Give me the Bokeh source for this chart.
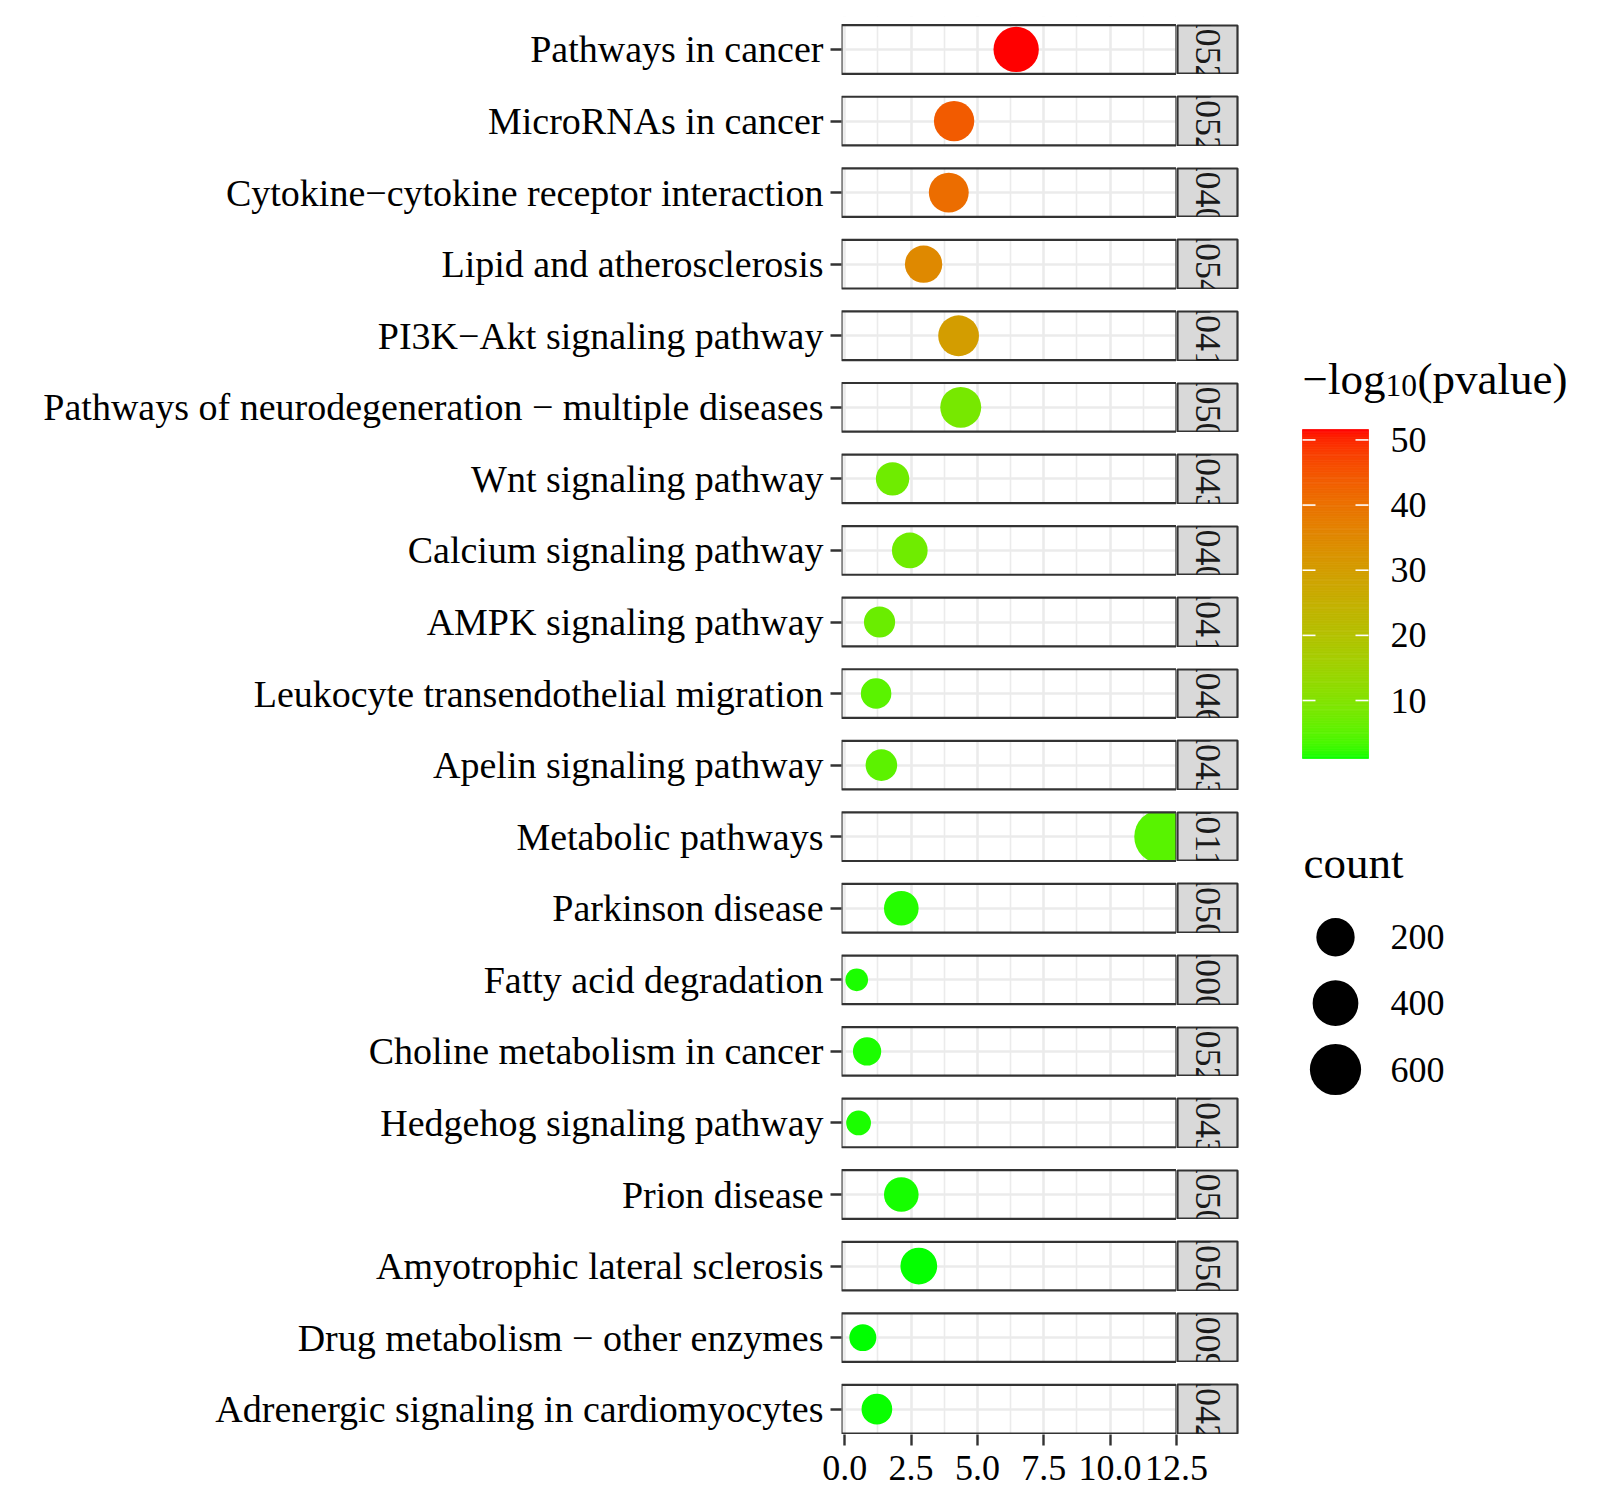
import math
import numpy as np
from bokeh.plotting import figure
from bokeh.layouts import row, column
from bokeh.models import Range1d, FixedTicker, PrintfTickFormatter, AllLabels, ColumnDataSource
from bokeh.core.properties import value
from bokeh.embed import file_html
from bokeh.resources import INLINE

# ---------------- data ----------------
PATHWAYS = [
    "Pathways in cancer",
    "MicroRNAs in cancer",
    "Cytokine\u2212cytokine receptor interaction",
    "Lipid and atherosclerosis",
    "PI3K\u2212Akt signaling pathway",
    "Pathways of neurodegeneration \u2212 multiple diseases",
    "Wnt signaling pathway",
    "Calcium signaling pathway",
    "AMPK signaling pathway",
    "Leukocyte transendothelial migration",
    "Apelin signaling pathway",
    "Metabolic pathways",
    "Parkinson disease",
    "Fatty acid degradation",
    "Choline metabolism in cancer",
    "Hedgehog signaling pathway",
    "Prion disease",
    "Amyotrophic lateral sclerosis",
    "Drug metabolism \u2212 other enzymes",
    "Adrenergic signaling in cardiomyocytes",
]
KEGG_IDS = [
    "hsa05200", "hsa05206", "hsa04060", "hsa05417", "hsa04151",
    "hsa05022", "hsa04310", "hsa04020", "hsa04152", "hsa04670",
    "hsa04371", "hsa01100", "hsa05012", "hsa00071", "hsa05231",
    "hsa04340", "hsa05020", "hsa05014", "hsa00983", "hsa04261",
]
GENE_RATIO = [6.46, 4.12, 3.92, 2.97, 4.29, 4.37, 1.80, 2.45, 1.31, 1.18,
              1.38, 11.93, 2.13, 0.45, 0.84, 0.52, 2.13, 2.79, 0.68, 1.21]
COUNTS = [388, 247, 235, 178, 257, 262, 108, 147, 79, 71,
          83, 716, 128, 28, 50, 31, 128, 167, 41, 73]
NEG_LOG10_P = [51.6, 44.0, 40.8, 35.0, 30.0, 8.3, 7.3, 7.3, 6.7, 5.0,
               5.2, 4.8, 1.8, 1.5, 1.5, 1.5, 1.4, 1.15, 1.1, 1.2]
X_TICKS = [0.0, 2.5, 5.0, 7.5, 10.0, 12.5]
X_MINOR = [1.25, 3.75, 6.25, 8.75, 11.25]
CB_TICKS = [10, 20, 30, 40, 50]
SIZE_BREAKS = [200, 400, 600]

FONT = "Liberation Serif"
N = len(PATHWAYS)

# ---------------- colour scale (CIELAB interpolation green -> red) ----------------
def _lin(c):
    c = c / 255.0
    return c / 12.92 if c <= 0.04045 else ((c + 0.055) / 1.055) ** 2.4

def hex_to_lab(h):
    r, g, b = (int(h[i:i + 2], 16) for i in (1, 3, 5))
    R, G, B = _lin(r), _lin(g), _lin(b)
    X = 0.4124564 * R + 0.3575761 * G + 0.1804375 * B
    Y = 0.2126729 * R + 0.7151522 * G + 0.0721750 * B
    Z = 0.0193339 * R + 0.1191920 * G + 0.9503041 * B
    def f(t):
        return t ** (1 / 3) if t > (6 / 29) ** 3 else t / (3 * (6 / 29) ** 2) + 4 / 29
    fx, fy, fz = f(X / 0.95047), f(Y / 1.0), f(Z / 1.08883)
    return (116 * fy - 16, 500 * (fx - fy), 200 * (fy - fz))

def lab_to_hex(L, a, b):
    fy = (L + 16) / 116
    fx = fy + a / 500
    fz = fy - b / 200
    def finv(t):
        return t ** 3 if t > 6 / 29 else 3 * (6 / 29) ** 2 * (t - 4 / 29)
    X, Y, Z = 0.95047 * finv(fx), finv(fy), 1.08883 * finv(fz)
    R = 3.2404542 * X - 1.5371385 * Y - 0.4985314 * Z
    G = -0.9692660 * X + 1.8760108 * Y + 0.0415560 * Z
    B = 0.0556434 * X - 0.2040259 * Y + 1.0572252 * Z
    out = []
    for c in (R, G, B):
        c = 12.92 * c if c <= 0.0031308 else 1.055 * (max(c, 0) ** (1 / 2.4)) - 0.055
        out.append(int(round(min(max(c, 0.0), 1.0) * 255)))
    return "#%02x%02x%02x" % tuple(out)

LAB_LO = hex_to_lab("#00FF00")
LAB_HI = hex_to_lab("#FF0000")
VMIN, VMAX = min(NEG_LOG10_P), max(NEG_LOG10_P)

def value_color(v):
    t = (v - VMIN) / (VMAX - VMIN)
    return lab_to_hex(*[lo + t * (hi - lo) for lo, hi in zip(LAB_LO, LAB_HI)])

# ---------------- size scale (area) ----------------
CMIN, CMAX = min(COUNTS), max(COUNTS)
D_MIN, D_MAX = 22.7, 54.0

def count_size(c):
    return D_MIN + (D_MAX - D_MIN) * math.sqrt((c - CMIN) / (CMAX - CMIN))

# ---------------- main panel figure ----------------
xlo, xhi = min(GENE_RATIO), max(GENE_RATIO)
xspan = xhi - xlo
XR = Range1d(xlo - 0.05 * xspan, xhi + 0.05 * xspan)

PITCH = 71.56          # px per category
PANEL_FRAC = 0.679     # panel height as fraction of the pitch
TOP_PAD = 8.7
BOT_PAD = 1.0
y_top = -PANEL_FRAC / 2 - TOP_PAD / PITCH
y_bot = (N - 1) + PANEL_FRAC / 2 + BOT_PAD / PITCH
FRAME_H = int(round((y_bot - y_top) * PITCH))
SCALE = FRAME_H / (y_bot - y_top)
MAIN_TOP = 16
FRAME_LEFT = 841
FRAME_W = 335

p = figure(x_range=XR, y_range=Range1d(y_bot, y_top),
           frame_width=FRAME_W, frame_height=FRAME_H,
           min_border_left=FRAME_LEFT, min_border_right=0,
           min_border_top=MAIN_TOP, min_border_bottom=0,
           toolbar_location=None, output_backend="svg",
           background_fill_color="white", border_fill_color="white",
           outline_line_color=None)

xt = FixedTicker(ticks=X_TICKS, minor_ticks=X_MINOR)
p.xaxis.visible = False
p.xgrid.ticker = xt

yt = FixedTicker(ticks=list(range(N)))
p.yaxis.ticker = yt
p.ygrid.ticker = yt
p.yaxis.major_label_overrides = {i: name for i, name in enumerate(PATHWAYS)}
p.yaxis.major_label_policy = AllLabels()
p.yaxis.axis_line_color = None
p.yaxis.major_tick_line_color = "#333333"
p.yaxis.major_tick_line_width = 2.4
p.yaxis.major_tick_out = 11
p.yaxis.major_tick_in = 0
p.yaxis.minor_tick_line_color = None
p.yaxis.major_label_text_font = FONT
p.yaxis.major_label_text_font_size = "38px"
p.yaxis.major_label_text_color = "black"
p.yaxis.major_label_standoff = 7

p.xgrid.grid_line_color = "#EBEBEB"
p.xgrid.grid_line_width = 2.6
p.xgrid.minor_grid_line_color = "#EBEBEB"
p.xgrid.minor_grid_line_width = 1.6
p.ygrid.grid_line_color = "#EBEBEB"
p.ygrid.grid_line_width = 2.6

src = ColumnDataSource(dict(
    x=GENE_RATIO,
    y=list(range(N)),
    size=[count_size(c) for c in COUNTS],
    color=[value_color(v) for v in NEG_LOG10_P],
))
p.scatter("x", "y", size="size", fill_color="color", line_color=None, source=src)

# white gaps between facet panels (hide grid / clip points)
gap_hi = [i - PANEL_FRAC / 2 for i in range(N)]
gap_lo = [i - 1 + PANEL_FRAC / 2 for i in range(N)]
p.quad(left=XR.start, right=XR.end, top=gap_hi, bottom=gap_lo,
       fill_color="white", line_color=None)

# panel borders
p.rect(x=(XR.start + XR.end) / 2, y=list(range(N)), width=XR.end - XR.start,
       height=PANEL_FRAC, fill_color=None, line_color="#333333", line_width=2.2)

# ---------------- x axis (own strip so that the last label is not cut) ----------------
ax = figure(x_range=XR, y_range=Range1d(0, 1),
            frame_width=FRAME_W, frame_height=1,
            min_border_left=FRAME_LEFT, min_border_right=45,
            min_border_top=0, min_border_bottom=60,
            y_axis_type=None, toolbar_location=None, output_backend="svg",
            background_fill_color="white", border_fill_color="white",
            outline_line_color=None)
ax.grid.visible = False
ax.xaxis.ticker = xt
ax.xaxis.formatter = PrintfTickFormatter(format="%.1f")
ax.xaxis.major_label_policy = AllLabels()
ax.xaxis.axis_line_color = None
ax.xaxis.major_tick_line_color = "#333333"
ax.xaxis.major_tick_line_width = 2.4
ax.xaxis.major_tick_out = 10
ax.xaxis.major_tick_in = 1
ax.xaxis.minor_tick_line_color = None
ax.xaxis.major_label_text_font = FONT
ax.xaxis.major_label_text_font_size = "36px"
ax.xaxis.major_label_text_color = "black"
ax.xaxis.major_label_standoff = 10

# ---------------- facet strips ----------------
strips = []
prev_end = 0
for i in range(N):
    top = MAIN_TOP + (i - PANEL_FRAC / 2 - y_top) * SCALE
    bot = top + PANEL_FRAC * SCALE
    t, b = int(round(top)), int(round(bot))
    s = figure(x_range=Range1d(0, 1), y_range=Range1d(0, 1),
               frame_width=60, frame_height=b - t,
               min_border_left=1, min_border_right=2,
               min_border_top=t - prev_end, min_border_bottom=1,
               x_axis_type=None, y_axis_type=None,
               toolbar_location=None, output_backend="svg",
               background_fill_color="#D9D9D9", border_fill_color="white",
               outline_line_color="#333333", outline_line_width=2.2)
    s.text(x=[0.5], y=[0.5], text=[KEGG_IDS[i]], angle=-math.pi / 2,
           text_font=value(FONT), text_font_size="36px",
           text_align="center", text_baseline="middle", text_color="#1A1A1A")
    strips.append(s)
    prev_end = b + 1

# ---------------- legends ----------------
LG_X0 = FRAME_LEFT + FRAME_W + 63
LG_W = 1592 - LG_X0
LG_H = 1100
lg = figure(x_range=Range1d(LG_X0, LG_X0 + LG_W), y_range=Range1d(MAIN_TOP + LG_H, MAIN_TOP),
            frame_width=LG_W, frame_height=LG_H,
            min_border_left=0, min_border_right=0,
            min_border_top=MAIN_TOP, min_border_bottom=0,
            x_axis_type=None, y_axis_type=None,
            toolbar_location=None, output_backend="svg",
            background_fill_color="white", border_fill_color="white",
            outline_line_color=None)

# colour bar title: -log10(pvalue)
TITLE_BASE = 378
lg.text(x=[1302], y=[TITLE_BASE], text=["\u2212log"], text_font=value(FONT), text_font_size="45px",
        text_baseline="alphabetic", text_align="left", text_color="black")
lg.text(x=[1385], y=[TITLE_BASE + 7], text=["10"], text_font=value(FONT), text_font_size="31.5px",
        text_baseline="alphabetic", text_align="left", text_color="black")
lg.text(x=[1417], y=[TITLE_BASE], text=["(pvalue)"], text_font=value(FONT), text_font_size="45px",
        text_baseline="alphabetic", text_align="left", text_color="black")

CB_L, CB_R, CB_T, CB_B = 1302, 1368, 429, 758

def cb_y(v):
    return CB_B - (v - VMIN) / (VMAX - VMIN) * (CB_B - CB_T)

edges = np.linspace(VMIN, VMAX, 201)
mids = (edges[:-1] + edges[1:]) / 2
cols = [value_color(v) for v in mids]
lg.quad(left=CB_L, right=CB_R, bottom=[cb_y(e) for e in edges[:-1]],
        top=[cb_y(e) for e in edges[1:]], fill_color=cols, line_color=cols, line_width=0.8)
tick_y = [cb_y(v) for v in CB_TICKS]
lg.segment(x0=CB_L, x1=CB_L + 13, y0=tick_y, y1=tick_y, line_color="white", line_width=1.6)
lg.segment(x0=CB_R - 13, x1=CB_R, y0=tick_y, y1=tick_y, line_color="white", line_width=1.6)
lg.text(x=1390, y=tick_y, text=[str(v) for v in CB_TICKS], text_font=value(FONT),
        text_font_size="36px", text_baseline="middle", text_align="left", text_color="black")

# size legend
lg.text(x=[1303], y=[862], text=["count"], text_font=value(FONT), text_font_size="45px",
        text_baseline="alphabetic", text_align="left", text_color="black")
key_y = [936.7, 1002.7, 1069.0]
lg.scatter(x=1335, y=key_y, size=[count_size(c) for c in SIZE_BREAKS],
           fill_color="black", line_color=None)
lg.text(x=1390, y=key_y, text=[str(c) for c in SIZE_BREAKS], text_font=value(FONT),
        text_font_size="36px", text_baseline="middle", text_align="left", text_color="black")

layout = column(row(p, column(*strips, spacing=0), lg, spacing=0), ax, spacing=0)
open("out.html", "w").write(file_html(layout, INLINE))
